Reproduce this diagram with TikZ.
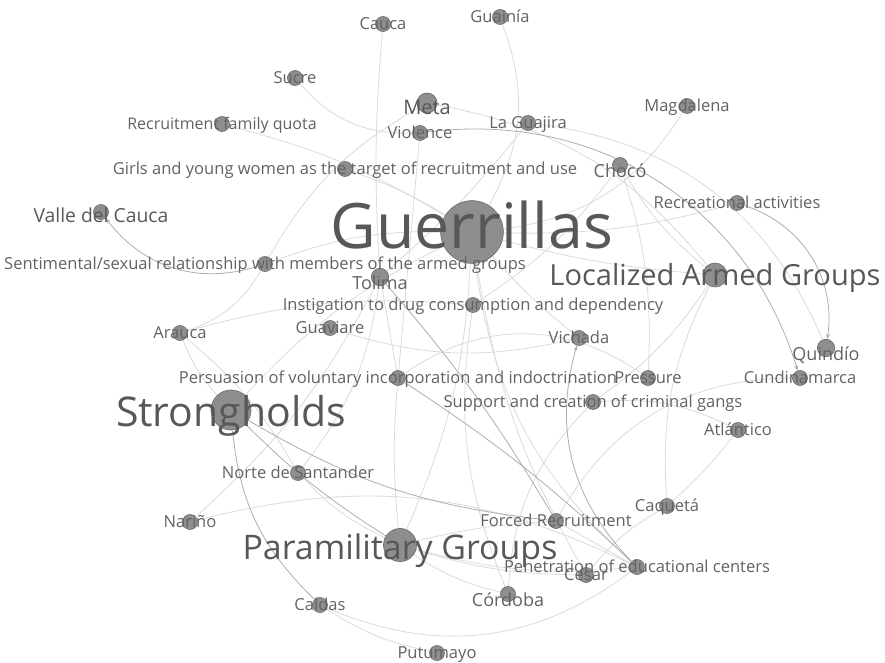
\documentclass[tikz,border=0pt]{standalone}
\usepackage{fontspec}
\setmainfont{Open Sans}
\usepackage{xcolor}
\usetikzlibrary{arrows.meta,backgrounds}

\definecolor{edgec}{HTML}{DADADA}
\definecolor{edgedk}{HTML}{ADADAD}
\definecolor{dotc}{HTML}{8E8E8E}
\definecolor{dotline}{HTML}{6C6C6C}
\definecolor{txt}{HTML}{626262}
\definecolor{txtbig}{HTML}{585858}

\begin{document}
\begin{tikzpicture}[x=0.75pt, y=0.75pt,
  dot/.style={circle, draw=dotline, fill=dotc, line width=0.5pt,
              inner sep=0pt, minimum size=11.25pt},
  lab/.style={text=txt, anchor=base, inner sep=0pt,
              font=\fontsize{12.4}{14}\selectfont, yshift=-4.4pt},
  mid/.style={lab, font=\fontsize{13.5}{16}\selectfont, yshift=-4.8pt},
  big/.style={lab, text=txtbig},
  edge/.style={draw=edgec, line width=0.6pt},
  dkedge/.style={draw=edgedk, line width=0.6pt},
  arr/.style={dkedge, -{Stealth[length=4pt, width=3pt]}}]

\useasboundingbox (0,0) rectangle (885,-663);

% nodes (dots)
\node[dot] (cauca)        at (383,-24)  {};
\node[dot] (guainia)      at (500,-17)  {};
\node[dot] (sucre)        at (295,-78)  {};
\node[dot, minimum size=15pt] (meta) at (427,-103) {};
\node[dot] (rfq)          at (222,-124) {};
\node[dot] (violence)     at (420,-133) {};
\node[dot] (laguajira)    at (528,-123) {};
\node[dot] (magdalena)    at (687,-106) {};
\node[dot] (girls)        at (345,-169) {};
\node[dot] (choco)        at (620,-165) {};
\node[dot] (recreational) at (737,-203) {};
\node[dot] (valle)        at (101,-212) {};
\node[dot, minimum size=47pt] (guerrillas) at (472,-232) {};
\node[dot] (sentimental)  at (265,-264) {};
\node[dot, minimum size=13pt] (tolima) at (380,-277) {};
\node[dot, minimum size=18pt] (localized) at (715,-275) {};
\node[dot] (instigation)  at (473,-305) {};
\node[dot] (guaviare)     at (330,-328) {};
\node[dot] (arauca)       at (180,-333) {};
\node[dot] (vichada)      at (579,-338) {};
\node[dot, minimum size=13pt] (quindio) at (826,-348) {};
\node[dot] (persuasion)   at (398,-378) {};
\node[dot] (pressure)     at (648,-378) {};
\node[dot] (cundinamarca) at (800,-378) {};
\node[dot, minimum size=30pt] (strongholds) at (231,-410) {};
\node[dot] (support)      at (593,-402) {};
\node[dot] (atlantico)    at (738,-430) {};
\node[dot] (norte)        at (298,-473) {};
\node[dot] (caqueta)      at (667,-506) {};
\node[dot] (narino)       at (190,-522) {};
\node[dot] (forced)       at (556,-521) {};
\node[dot, minimum size=24.75pt] (paramilitary) at (400,-545) {};
\node[dot] (penetration)  at (637,-567) {};
\node[dot] (cesar)        at (586,-575) {};
\node[dot] (cordoba)      at (508,-594) {};
\node[dot] (caldas)       at (320,-605) {};
\node[dot] (putumayo)     at (437,-653) {};

% edges, behind the dots
\begin{scope}[on background layer]
\foreach \a/\b/\c in {cauca/tolima/-4, guainia/guerrillas/25, sucre/violence/-25,
    arauca/sentimental/-20, sentimental/meta/15, rfq/guerrillas/8,
    girls/guerrillas/6, sentimental/guerrillas/10,
    caldas/putumayo/-10, narino/tolima/-10, narino/penetration/20,
    magdalena/guerrillas/25, cundinamarca/forced/-30, localized/caqueta/-15,
    guerrillas/localized/-5, arauca/instigation/10, arauca/strongholds/-10,
    arauca/norte/10, norte/tolima/-15, tolima/persuasion/0,
    persuasion/paramilitary/-5, persuasion/pressure/35, guerrillas/paramilitary/10,
    guerrillas/penetration/-20, guerrillas/cesar/-10, guaviare/vichada/-15,
    support/atlantico/15, atlantico/caqueta/5, caqueta/cesar/-10,
    forced/penetration/0, paramilitary/penetration/-10, paramilitary/cesar/-8,
    paramilitary/forced/5, paramilitary/cordoba/-10, caldas/penetration/-30,
    instigation/cordoba/-15, choco/localized/-10, choco/instigation/10,
    laguajira/tolima/5, meta/localized/20, violence/persuasion/0,
    laguajira/quindio/30, recreational/guerrillas/8, choco/pressure/10,
    norte/paramilitary/-10, guerrillas/vichada/-5, localized/support/10,
    support/cordoba/-20, guerrillas/strongholds/-10}
  \draw[edge] (\a) to[bend left=\c] (\b);
\foreach \a/\b/\c in {strongholds/paramilitary/-6, strongholds/forced/-12,
    persuasion/penetration/5, tolima/forced/5}
  \draw[dkedge] (\a) to[bend left=\c] (\b);
\foreach \a/\b/\c in {sentimental/valle/35, caldas/strongholds/20,
    penetration/vichada/30, recreational/quindio/40, violence/cundinamarca/40}
  \draw[arr] (\a) to[bend left=\c] (\b);
\end{scope}

% labels
\node[lab] (cauca-l)        at (cauca)        {Cauca};
\node[lab] (guainia-l)      at (guainia)      {Guainía};
\node[lab] (sucre-l)        at (sucre)        {Sucre};
\node[big, font=\fontsize{15}{18}\selectfont, yshift=-4.6pt] (meta-l) at (meta) {Meta};
\node[lab, font=\fontsize{12}{14}\selectfont] (rfq-l) at (rfq) {Recruitment family quota};
\node[lab] (violence-l)     at (violence)     {Violence};
\node[lab] (laguajira-l)    at (laguajira)    {La Guajira};
\node[lab] (magdalena-l)    at (magdalena)    {Magdalena};
\node[lab] (girls-l)        at (girls)        {Girls and young women as the target of recruitment and use};
\node[mid] (choco-l)        at (choco)        {Chocó};
\node[lab] (recreational-l) at (recreational) {Recreational activities};
\node[big, font=\fontsize{14.5}{17}\selectfont, yshift=-3.3pt] (valle-l) at (valle) {Valle del Cauca};
\node[big, font=\fontsize{47}{52}\selectfont, yshift=-7.8pt] (guerrillas-l) at (guerrillas) {Guerrillas};
\node[lab] (sentimental-l)  at (sentimental)  {Sentimental/sexual relationship with members of the armed groups};
\node[mid] (tolima-l)       at (tolima)       {Tolima};
\node[big, font=\fontsize{21.8}{26}\selectfont, yshift=-3.6pt] (localized-l) at (localized) {Localized Armed Groups};
\node[lab] (instigation-l)  at (instigation)  {Instigation to drug consumption and dependency};
\node[lab] (guaviare-l)     at (guaviare)     {Guaviare};
\node[lab] (arauca-l)       at (arauca)       {Arauca};
\node[lab] (vichada-l)      at (vichada)      {Vichada};
\node[mid] (quindio-l)      at (quindio)      {Quindío};
\node[lab] (persuasion-l)   at (persuasion)   {Persuasion of voluntary incorporation and indoctrination};
\node[lab] (pressure-l)     at (pressure)     {Pressure};
\node[lab] (cundinamarca-l) at (cundinamarca) {Cundinamarca};
\node[big, font=\fontsize{30.7}{35}\selectfont, yshift=-7.6pt] (strongholds-l) at (strongholds) {Strongholds};
\node[lab] (support-l)      at (support)      {Support and creation of criminal gangs};
\node[lab] (atlantico-l)    at (atlantico)    {Atlántico};
\node[lab] (norte-l)        at (norte)        {Norte de Santander};
\node[lab] (caqueta-l)      at (caqueta)      {Caquetá};
\node[lab] (narino-l)       at (narino)       {Nariño};
\node[lab] (forced-l)       at (forced)       {Forced Recruitment};
\node[big, font=\fontsize{25.4}{29}\selectfont, yshift=-6.8pt] (paramilitary-l) at (paramilitary) {Paramilitary Groups};
\node[lab] (penetration-l)  at (penetration)  {Penetration of educational centers};
\node[lab] (cesar-l)        at (cesar)        {Cesar};
\node[mid] (cordoba-l)      at (cordoba)      {Córdoba};
\node[lab] (caldas-l)       at (caldas)       {Caldas};
\node[lab] (putumayo-l)     at (putumayo)     {Putumayo};
\end{tikzpicture}
\end{document}
